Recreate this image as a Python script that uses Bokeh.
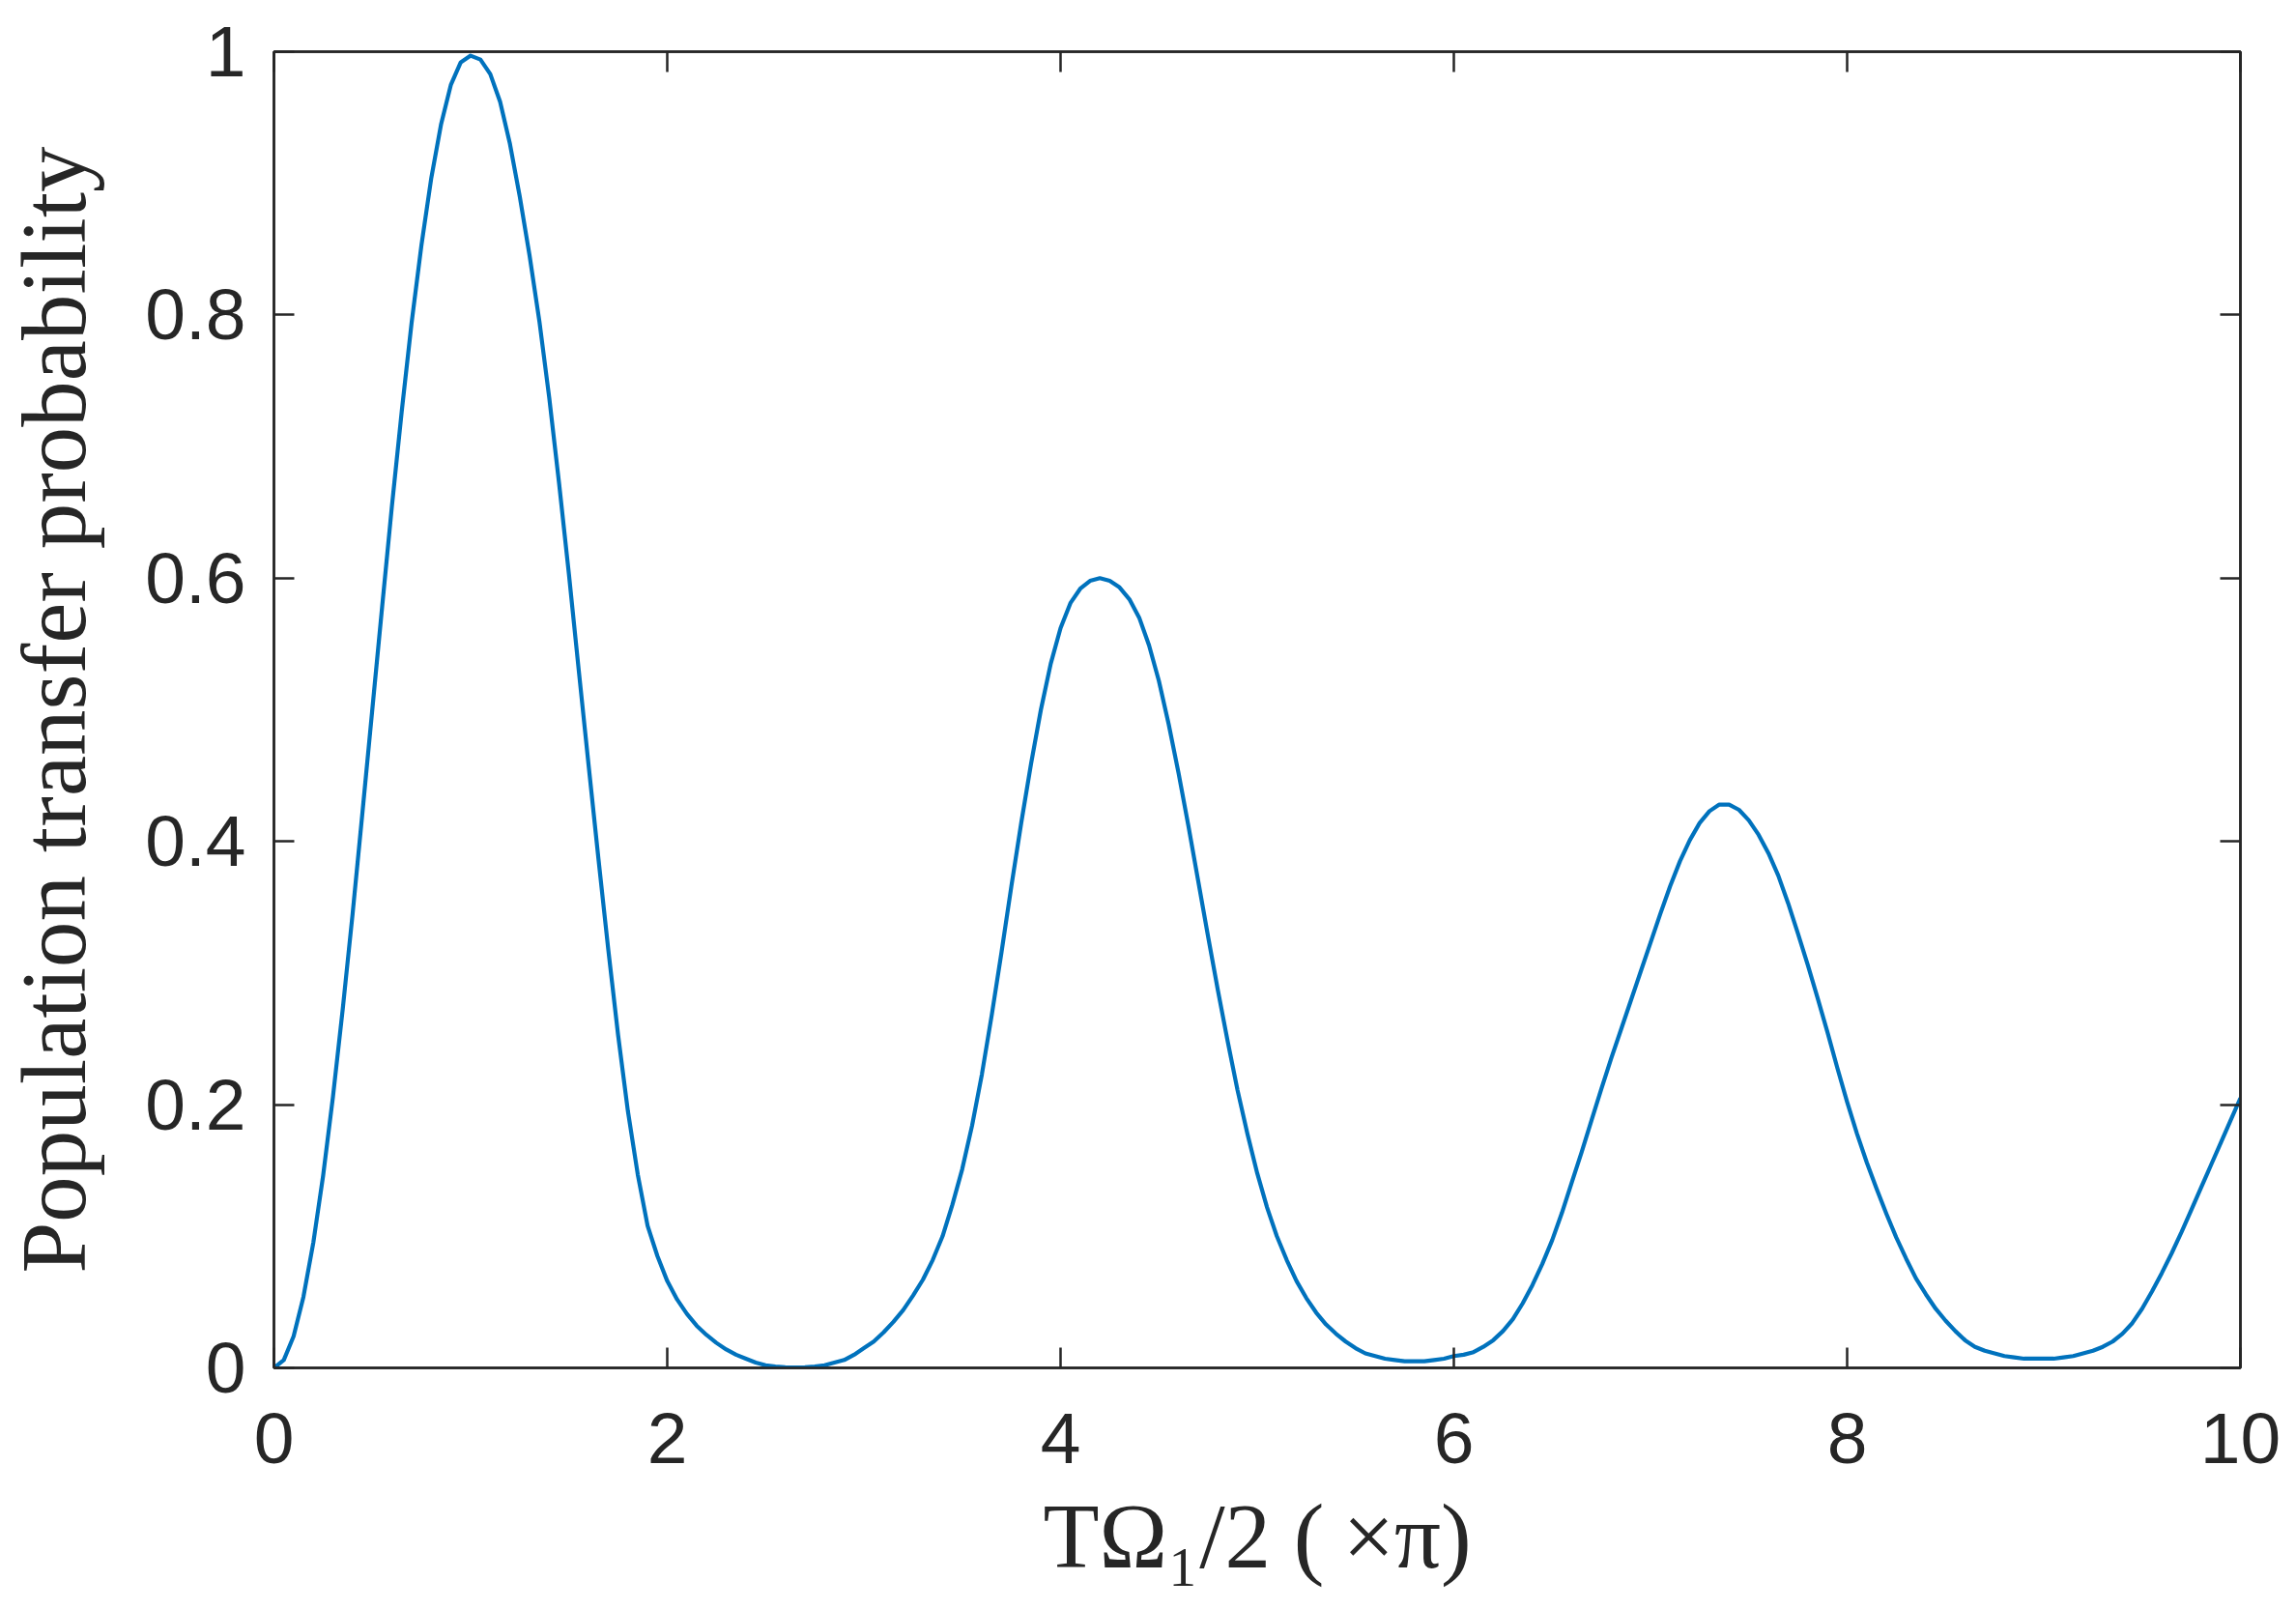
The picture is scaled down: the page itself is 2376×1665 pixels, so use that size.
from bokeh.plotting import figure
from bokeh.models import Range1d, LinearAxis, FixedTicker
from bokeh.embed import file_html
from bokeh.resources import INLINE

# --- data (x step 0.05) ---
x_values = [round(i * 0.05, 2) for i in range(201)]
probability = [
    # 0.00 - 0.95
    0.000, 0.006, 0.024, 0.054, 0.095, 0.146, 0.206, 0.273, 0.345, 0.422,
    0.500, 0.578, 0.655, 0.727, 0.794, 0.853, 0.904, 0.945, 0.975, 0.992,
    # 1.00 - 1.95
    0.997, 0.994, 0.983, 0.962, 0.930, 0.890, 0.845, 0.795, 0.737, 0.672,
    0.603, 0.530, 0.458, 0.387, 0.318, 0.253, 0.195, 0.147, 0.108, 0.085,
    # 2.00 - 2.95
    0.066, 0.052, 0.041, 0.032, 0.025, 0.019, 0.014, 0.010, 0.007, 0.004,
    0.002, 0.001, 0.0005, 0.0003, 0.0005, 0.001, 0.002, 0.004, 0.006, 0.010,
    # 3.00 - 3.95
    0.015, 0.020, 0.027, 0.035, 0.044, 0.055, 0.067, 0.082, 0.100, 0.124,
    0.151, 0.184, 0.223, 0.268, 0.316, 0.366, 0.414, 0.459, 0.500, 0.535,
    # 4.00 - 4.95
    0.562, 0.581, 0.592, 0.598, 0.600, 0.598, 0.593, 0.584, 0.570, 0.549,
    0.522, 0.489, 0.452, 0.412, 0.370, 0.328, 0.287, 0.248, 0.211, 0.178,
    # 5.00 - 5.95
    0.148, 0.122, 0.100, 0.082, 0.066, 0.053, 0.042, 0.033, 0.026, 0.020,
    0.015, 0.011, 0.009, 0.007, 0.006, 0.005, 0.005, 0.005, 0.006, 0.007,
    # 6.00 - 6.95
    0.009, 0.010, 0.012, 0.016, 0.021, 0.028, 0.037, 0.049, 0.063, 0.079,
    0.097, 0.118, 0.141, 0.164, 0.188, 0.212, 0.235, 0.257, 0.279, 0.301,
    # 7.00 - 7.95
    0.323, 0.345, 0.366, 0.385, 0.401, 0.414, 0.423, 0.428, 0.428, 0.424,
    0.416, 0.405, 0.391, 0.374, 0.353, 0.330, 0.306, 0.281, 0.255, 0.228,
    # 8.00 - 8.95
    0.202, 0.178, 0.156, 0.136, 0.117, 0.099, 0.083, 0.068, 0.056, 0.045,
    0.036, 0.028, 0.021, 0.016, 0.013, 0.011, 0.009, 0.008, 0.007, 0.007,
    # 9.00 - 9.95
    0.007, 0.007, 0.008, 0.009, 0.011, 0.013, 0.016, 0.020, 0.026, 0.034,
    0.045, 0.058, 0.072, 0.087, 0.103, 0.120, 0.137, 0.154, 0.171, 0.188,
    # 10.00
    0.205,
]
x_ticks = [0, 2, 4, 6, 8, 10]
y_ticks = [0, 0.2, 0.4, 0.6, 0.8, 1]
x_label = "TΩ₁/2 (\u2009×π)"
y_label = "Population transfer probability"

AX = "#262626"
LINE = "#0072BD"

p = figure(width=2360, height=1649, output_backend="svg", toolbar_location=None,
           x_range=Range1d(0, 10), y_range=Range1d(0, 1),
           min_border_left=277, min_border_right=42, min_border_top=53, min_border_bottom=234)
p.background_fill_color = "white"
p.border_fill_color = "white"
p.outline_line_color = AX
p.outline_line_width = 2.5
p.xgrid.visible = False
p.ygrid.visible = False

p.line(x_values, probability, line_color=LINE, line_width=4.2, line_join="round")


def style_axis(ax, ticks):
    ax.ticker = FixedTicker(ticks=ticks)
    ax.axis_line_color = AX
    ax.axis_line_width = 2.5
    ax.major_tick_line_color = AX
    ax.major_tick_line_width = 2.5
    ax.major_tick_in = 21
    ax.major_tick_out = 0
    ax.minor_tick_line_color = None
    ax.major_label_text_color = AX
    ax.major_label_text_font = "Liberation Sans"
    ax.major_label_text_font_size = "75px"


def mirror_axis(ax, ticks):
    # ticks only (drawn as minor ticks so that no labels are produced)
    ax.ticker = FixedTicker(ticks=[], minor_ticks=ticks)
    ax.axis_line_color = AX
    ax.axis_line_width = 2.5
    ax.minor_tick_line_color = AX
    ax.minor_tick_line_width = 2.5
    ax.minor_tick_in = 21
    ax.minor_tick_out = 0
    ax.major_tick_line_color = None


xa = p.xaxis[0]
ya = p.yaxis[0]
style_axis(xa, x_ticks)
style_axis(ya, y_ticks)
xa.major_label_standoff = 47
ya.major_label_standoff = 29
xa.major_label_overrides = {0: "0", 2: "2", 4: "4", 6: "6", 8: "8", 10: "10"}
ya.major_label_overrides = {0: "0", 0.2: "0.2", 0.4: "0.4", 0.6: "0.6", 0.8: "0.8", 1: "1"}

xa.axis_label = x_label
xa.axis_label_text_font = "Liberation Serif"
xa.axis_label_text_font_style = "normal"
xa.axis_label_text_font_size = "95px"
xa.axis_label_text_color = AX
xa.axis_label_standoff = 20

ya.axis_label = y_label
ya.axis_label_text_font = "Liberation Serif"
ya.axis_label_text_font_style = "normal"
ya.axis_label_text_font_size = "95px"
ya.axis_label_text_color = AX
ya.axis_label_standoff = 38

top = LinearAxis()
mirror_axis(top, x_ticks)
p.add_layout(top, "above")
right = LinearAxis()
mirror_axis(right, y_ticks)
p.add_layout(right, "right")

open("out.html", "w").write(file_html(p, INLINE))
